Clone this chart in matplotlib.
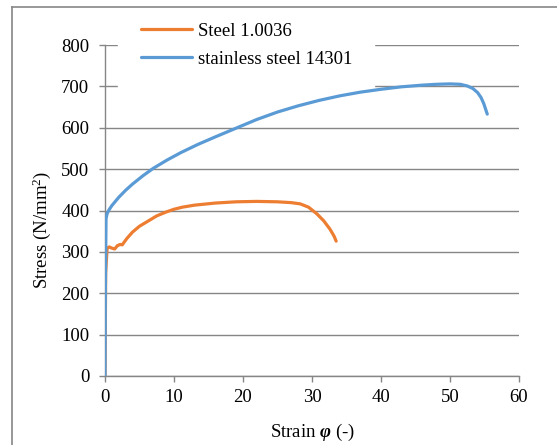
import numpy as np
import matplotlib.pyplot as plt
from matplotlib.lines import Line2D

plt.rcParams['font.family'] = ['Liberation Serif', 'DejaVu Serif']
plt.rcParams['mathtext.fontset'] = 'custom'
plt.rcParams['mathtext.rm'] = 'Liberation Serif'
plt.rcParams['mathtext.it'] = 'Liberation Serif:italic'
plt.rcParams['mathtext.bf'] = 'Liberation Serif:bold'
plt.rcParams['mathtext.bfit'] = 'Liberation Serif:italic:bold'

# Steel 1.0036
steel_strain = [0, 0.1, 0.3, 0.6, 1.0, 1.4, 1.8, 2.2, 2.5, 2.8, 3.2, 4, 5, 6.4, 7.5,
                8.8, 10, 11.2, 13, 16, 19, 22, 25, 27, 28.3, 29.5, 30.7, 31.7, 32.6,
                33.2, 33.5]
steel_stress = [0, 250, 308, 312, 309, 307, 315, 318, 317, 324, 333, 348, 362, 376, 387,
                396, 403, 408, 413, 418, 421, 422, 421, 419, 416, 408, 392, 375, 355,
                338, 326]

# stainless steel 14301
stainless_strain = [0, 0.05, 0.15, 0.3, 0.6, 1, 2, 3, 4, 5.5, 7, 9, 11, 13.5, 16, 19,
                    22, 25, 28, 31, 34, 37, 40, 43, 46, 48, 50, 51.5, 52.5, 53.3, 54,
                    54.5, 54.9, 55.2, 55.4]
stainless_stress = [0, 200, 380, 392, 402, 412, 432, 449, 464, 484, 502, 522, 540, 560,
                    578, 599, 620, 638, 653, 666, 677, 686, 693, 699, 703, 705, 706, 705,
                    701, 695, 685, 673, 658, 643, 633]

x_ticks = [0, 10, 20, 30, 40, 50, 60]
y_ticks = [0, 100, 200, 300, 400, 500, 600, 700, 800]

grey = '#868686'
fs = 13.5

fig = plt.figure(figsize=(5.57, 4.45), dpi=100)
ax = fig.add_axes([105 / 557, 1 - 376 / 445, 414 / 557, 331 / 445])

ax.plot(steel_strain, steel_stress, color='#ED7D31', lw=2.3, label='Steel 1.0036',
        solid_capstyle='round', solid_joinstyle='round', zorder=3)
ax.plot(stainless_strain, stainless_stress, color='#5B9BD5', lw=2.3,
        label='stainless steel 14301', solid_capstyle='round', solid_joinstyle='round',
        zorder=3)

ax.set_xlim(0, 60)
ax.set_ylim(0, 800)
ax.set_xticks(x_ticks)
ax.set_yticks(y_ticks)
ax.grid(axis='y', color=grey, lw=1)
ax.set_axisbelow(True)
for s in ['top', 'right']:
    ax.spines[s].set_visible(False)
for s in ['left', 'bottom']:
    ax.spines[s].set_color(grey)
    ax.spines[s].set_linewidth(1)
ax.tick_params(axis='both', colors=grey, labelcolor='black', labelsize=fs,
               direction='out', length=4.3, width=1)
ax.tick_params(axis='x', pad=5)
ax.tick_params(axis='y', pad=7)

ax.set_ylabel('Stress (N/mm$^2$)', fontsize=fs)
ax.yaxis.set_label_coords(-0.126, 0.441)
ax.set_xlabel(r'Strain $\mathbfit{\varphi}$ (-)', fontsize=fs)
ax.xaxis.set_label_coords(0.5, -0.138)

leg = ax.legend(loc='upper left', bbox_to_anchor=(118 / 557, 1.0),
                bbox_transform=fig.transFigure, fontsize=fs, handlelength=2.77,
                handletextpad=0.27, labelspacing=0.6, borderpad=1.2,
                borderaxespad=0, frameon=True, fancybox=False, framealpha=1)
leg.get_frame().set_edgecolor('white')
leg.get_frame().set_facecolor('white')
leg.set_zorder(1.5)

# outer chart border (left and top visible)
fig.add_artist(Line2D([12 / 557, 12 / 557], [-0.05, 1 - 7 / 445], color=grey, lw=1.2,
                      transform=fig.transFigure))
fig.add_artist(Line2D([12 / 557, 1.05], [1 - 7 / 445, 1 - 7 / 445], color=grey, lw=1.2,
                      transform=fig.transFigure))

fig.savefig('out.png', dpi=100)
